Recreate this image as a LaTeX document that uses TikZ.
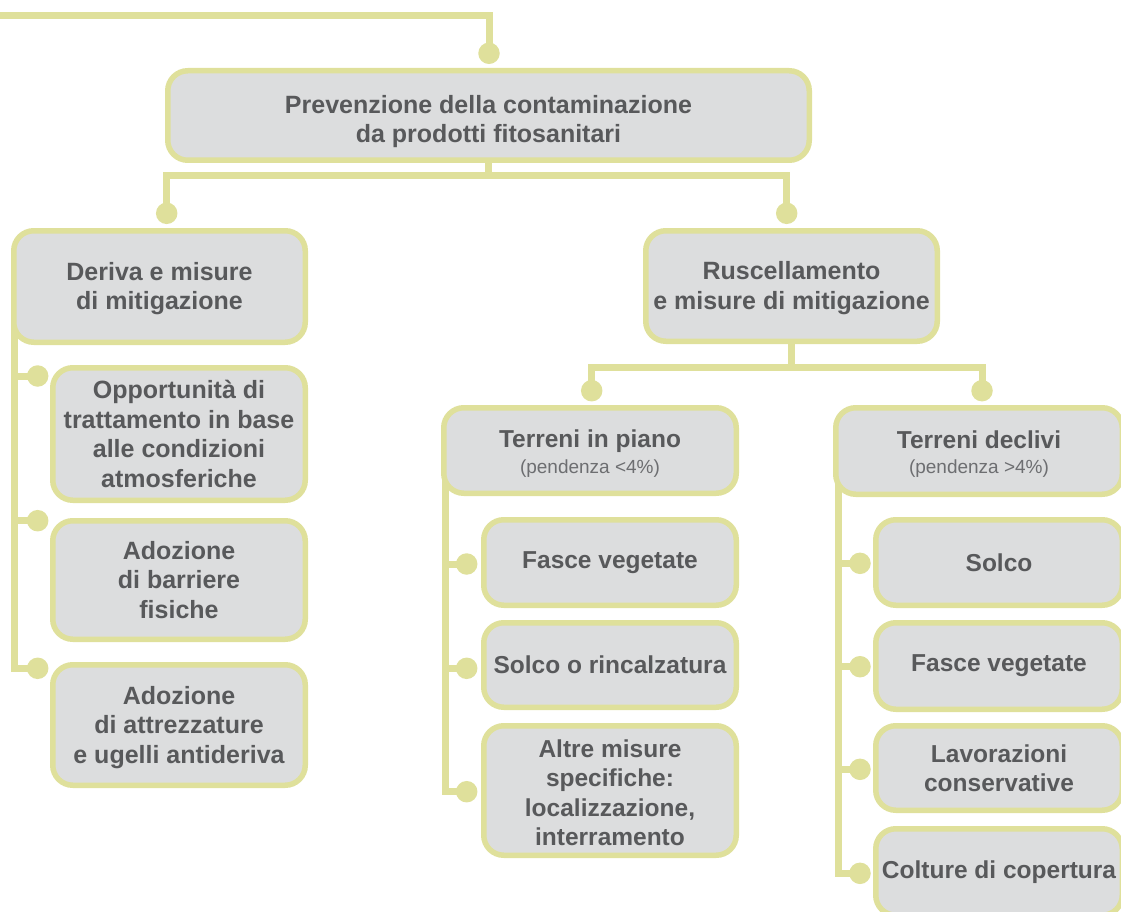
\documentclass[tikz,border=0pt]{standalone}
\usepackage{fontspec}
\setmainfont{Liberation Sans}
\usetikzlibrary{backgrounds}
\definecolor{linec}{HTML}{DFE09B}
\definecolor{boxfill}{HTML}{DCDDDE}
\definecolor{txt}{HTML}{58595B}
\definecolor{subtxt}{HTML}{6D6E71}
\newcommand{\subf}{\fontsize{19}{22}\selectfont\mdseries\color{subtxt}}
\newcommand{\upst}[1]{\rule{0pt}{#1pt}}
\begin{document}
\begin{tikzpicture}[x=1pt, y=-1pt,
  box/.style={draw=linec, line width=5.5pt, fill=boxfill, rounded corners=20pt,
    inner sep=0pt, align=center, text=txt,
    font=\fontsize{25}{29.5}\selectfont\bfseries},
  smallbox/.style={box, font=\fontsize{24.5}{29.5}\selectfont\bfseries},
  dotn/.style={circle, fill=linec, minimum size=21.5pt, inner sep=0pt},
  conn/.style={draw=linec, line width=7pt}]
\useasboundingbox (0,0) rectangle (1121,912);

% boxes
\node[box, minimum width=641.5pt, minimum height=89.5pt] (top) at (488.5,115.5)
  {\upst{30}Prevenzione della contaminazione\\da prodotti fitosanitari};
\node[box, minimum width=291.5pt, minimum height=111.5pt] (deriva) at (159.5,286.5)
  {\upst{22.5}Deriva e misure\\di mitigazione};
\node[box, minimum width=291.5pt, minimum height=110.5pt] (rusc) at (791.5,286)
  {\upst{22.5}Ruscellamento\\e misure di mitigazione};
\node[box, minimum width=252.5pt, minimum height=132.5pt] (opp) at (179,434)
  {Opportunità di\\trattamento in base\\alle condizioni\\atmosferiche};
\node[box, minimum width=252.5pt, minimum height=118.5pt] (barr) at (179,580)
  {Adozione\\di barriere\\fisiche};
\node[box, minimum width=252.5pt, minimum height=120.5pt] (attr) at (179,725)
  {\upst{23}Adozione\\di attrezzature\\e ugelli antideriva};
\node[smallbox, minimum width=292.5pt, minimum height=85.5pt] (piano) at (590,450.5)
  {\upst{24}Terreni in piano\\[-4pt]{\subf (pendenza <4\%)}};
\node[smallbox, minimum width=286.5pt, minimum height=86.5pt] (declivi) at (979,451)
  {\upst{24}Terreni declivi\\[-4pt]{\subf (pendenza >4\%)}};
\node[smallbox, minimum width=252.5pt, minimum height=85.5pt] (fasceA) at (610,562.5)
  {Fasce vegetate};
\node[smallbox, minimum width=252.5pt, minimum height=84.5pt] (solcoA) at (610,665)
  {Solco o rincalzatura};
\node[smallbox, minimum width=252.5pt, minimum height=129.5pt] (altre) at (610,790.5)
  {\upst{22}Altre misure\\specifiche:\\localizzazione,\\interramento};
\node[smallbox, minimum width=246.5pt, minimum height=85.5pt] (solcoB) at (999,562.5)
  {Solco};
\node[smallbox, minimum width=246.5pt, minimum height=86.5pt] (fasceB) at (999,666)
  {Fasce vegetate};
\node[smallbox, minimum width=246.5pt, minimum height=84.5pt] (lavor) at (999,768)
  {Lavorazioni\\conservative};
\node[smallbox, minimum width=246.5pt, minimum height=86.5pt] (colture) at (999,872)
  {Colture di copertura};

% dots
\node[dotn] (d0) at (489,53.3) {};
\node[dotn] (d1) at (166.7,213.3) {};
\node[dotn] (d2) at (786.7,213.3) {};
\node[dotn] (d3) at (591.7,390.7) {};
\node[dotn] (d4) at (982,390.7) {};
\node[dotn] (dl1) at (37.7,376) {};
\node[dotn] (dl2) at (37.7,520.7) {};
\node[dotn] (dl3) at (37.7,668.3) {};
\node[dotn] (dp1) at (466.7,564) {};
\node[dotn] (dp2) at (466.7,668.3) {};
\node[dotn] (dp3) at (466.7,791.7) {};
\node[dotn] (dr1) at (860,563.3) {};
\node[dotn] (dr2) at (860,666.7) {};
\node[dotn] (dr3) at (860,769.3) {};
\node[dotn] (dr4) at (860,873.3) {};

\coordinate (start) at (0,15.5);
\coordinate (j1) at (488.5,175.5);
\coordinate (j2) at (791.5,367.5);
\coordinate (sl) at ([xshift=3.5pt]deriva.west);
\coordinate (sp) at ([xshift=4pt]piano.west);
\coordinate (sr) at ([xshift=5pt]declivi.west);

\begin{scope}[on background layer]
\draw[conn] (start) -| (d0.center);
\draw[conn] (top.south) -- (j1);
\draw[conn] (d1.center) |- (j1) -| (d2.center);
\draw[conn] (rusc.south) -- (j2);
\draw[conn] (d3.center) |- (j2) -| (d4.center);
\draw[conn] (sl) |- (dl3.center);
\draw[conn] (dl1.center) -- (dl1.center -| sl);
\draw[conn] (dl2.center) -- (dl2.center -| sl);
\draw[conn] (sp) |- (dp3.center);
\draw[conn] (dp1.center) -- (dp1.center -| sp);
\draw[conn] (dp2.center) -- (dp2.center -| sp);
\draw[conn] (sr) |- (dr4.center);
\draw[conn] (dr1.center) -- (dr1.center -| sr);
\draw[conn] (dr2.center) -- (dr2.center -| sr);
\draw[conn] (dr3.center) -- (dr3.center -| sr);
\end{scope}
\end{tikzpicture}
\end{document}
